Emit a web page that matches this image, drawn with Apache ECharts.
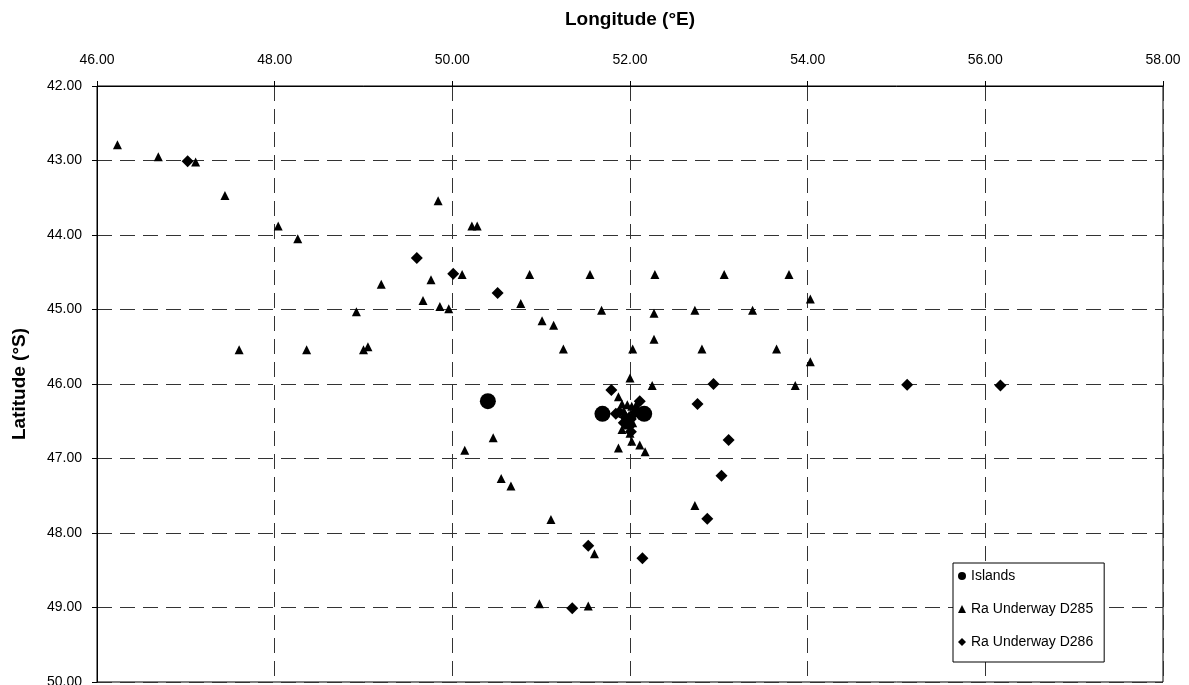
<!DOCTYPE html>
<html>
<head>
<meta charset="utf-8">
<script src="https://cdn.jsdelivr.net/npm/echarts@6/dist/echarts.min.js"></script>
<style>
html,body{margin:0;padding:0;background:#fff;}
#chart{width:1189px;height:685px;}
</style>
</head>
<body>
<div id="chart"></div>
<script>
// [longitude °E, latitude °S]
const islands = [
  [50.40, 46.23], [51.69, 46.40], [52.16, 46.40]
];
const underwayD285 = [
  [46.23, 42.79], [46.69, 42.95], [47.11, 43.02], [47.44, 43.47], [48.04, 43.88],
  [48.26, 44.05], [49.84, 43.54], [50.22, 43.88], [50.28, 43.88], [49.20, 44.66],
  [49.76, 44.60], [50.11, 44.53], [49.67, 44.88], [49.86, 44.96], [49.96, 44.99],
  [48.92, 45.03], [50.87, 44.53], [51.55, 44.53], [52.28, 44.53], [53.06, 44.53],
  [53.79, 44.53], [50.77, 44.92], [51.01, 45.15], [51.14, 45.21], [51.25, 45.53],
  [51.68, 45.01], [52.27, 45.05], [52.73, 45.01], [53.38, 45.01], [52.03, 45.53],
  [52.27, 45.40], [52.81, 45.53], [53.65, 45.53], [52.00, 45.92], [52.25, 46.02],
  [53.86, 46.02], [54.03, 44.86], [54.03, 45.70], [47.60, 45.54], [48.36, 45.54],
  [49.00, 45.54], [49.05, 45.50], [50.14, 46.89], [50.46, 46.72], [50.55, 47.27],
  [50.66, 47.37], [51.11, 47.82], [51.60, 48.28], [50.98, 48.95], [51.53, 48.98],
  [52.73, 47.63], [51.87, 46.17], [51.93, 46.48], [51.91, 46.61], [52.00, 46.66],
  [52.02, 46.77], [51.87, 46.86], [52.11, 46.82], [52.17, 46.91],
  [51.97, 46.28], [52.02, 46.30], [51.93, 46.36], [52.05, 46.37], [51.99, 46.42],
  [52.03, 46.52], [51.97, 46.55], [51.91, 46.27], [52.07, 46.28]
];
const underwayD286 = [
  [47.02, 43.01], [49.60, 44.31], [50.01, 44.52], [50.51, 44.78], [52.94, 46.00],
  [52.76, 46.27], [51.79, 46.08], [52.11, 46.23], [53.11, 46.75], [53.03, 47.23],
  [52.87, 47.81], [51.53, 48.17], [52.14, 48.34], [51.35, 49.01], [55.12, 46.01],
  [56.17, 46.02],
  [51.88, 46.38], [52.06, 46.38], [51.95, 46.45], [52.01, 46.47], [52.00, 46.56],
  [52.01, 46.64], [51.93, 46.52], [51.84, 46.40], [52.10, 46.40]
];
const xTicks = [46, 48, 50, 52, 54, 56, 58];
const yTicks = [42, 43, 44, 45, 46, 47, 48, 49, 50];

const chart = echarts.init(document.getElementById('chart'), null, {renderer: 'canvas'});
const FONT = '"Liberation Sans", Arial, sans-serif';
chart.setOption({
  animation: false,
  backgroundColor: '#fff',
  grid: {
    left: 97, right: 26, top: 86, bottom: 3,
    containLabel: false, outerBoundsMode: 'none',
    show: true, borderColor: '#000', borderWidth: 1, backgroundColor: 'transparent'
  },
  xAxis: {
    type: 'value', position: 'top',
    min: xTicks[0], max: xTicks[xTicks.length - 1], interval: 2,
    name: 'Longitude (°E)', nameLocation: 'middle', nameGap: 57,
    nameTextStyle: {fontFamily: FONT, fontSize: 19, fontWeight: 'bold', color: '#000'},
    axisLine: {show: true, lineStyle: {color: '#000', width: 1}},
    axisTick: {show: true, length: 5, lineStyle: {color: '#000'}},
    axisLabel: {fontFamily: FONT, fontSize: 14, color: '#000', margin: 19,
      formatter: v => v.toFixed(2)},
    splitLine: {show: true, lineStyle: {color: '#333', width: 1, type: [15, 8]}}
  },
  yAxis: {
    type: 'value', inverse: true,
    min: yTicks[0], max: yTicks[yTicks.length - 1], interval: 1,
    name: 'Latitude (°S)', nameLocation: 'middle', nameGap: 68, nameRotate: 90,
    nameTextStyle: {fontFamily: FONT, fontSize: 19, fontWeight: 'bold', color: '#000'},
    axisLine: {show: true, lineStyle: {color: '#000', width: 1}},
    axisTick: {show: true, length: 5, lineStyle: {color: '#000'}},
    axisLabel: {fontFamily: FONT, fontSize: 14, color: '#000', margin: 15,
      formatter: v => v.toFixed(2)},
    splitLine: {show: true, lineStyle: {color: '#333', width: 1, type: [15, 8]}}
  },
  legend: {
    orient: 'vertical', left: 953, top: 563,
    backgroundColor: '#fff', borderColor: '#000', borderWidth: 1,
    padding: [6, 11, 13, 5], itemGap: 19, itemWidth: 8, itemHeight: 8,
    textStyle: {fontFamily: FONT, fontSize: 14, color: '#000'},
    data: [
      {name: 'Islands', icon: 'circle'},
      {name: 'Ra Underway D285', icon: 'triangle'},
      {name: 'Ra Underway D286', icon: 'diamond'}
    ]
  },
  series: [
    {name: 'Islands', type: 'scatter', symbol: 'circle', symbolSize: 16,
      itemStyle: {color: '#000', opacity: 1}, data: islands, z: 2},
    {name: 'Ra Underway D285', type: 'scatter', symbol: 'triangle', symbolSize: 9,
      itemStyle: {color: '#000', opacity: 1}, data: underwayD285, z: 3},
    {name: 'Ra Underway D286', type: 'scatter', symbol: 'diamond', symbolSize: 12,
      itemStyle: {color: '#000', opacity: 1}, data: underwayD286, z: 4}
  ]
});
</script>
</body>
</html>
